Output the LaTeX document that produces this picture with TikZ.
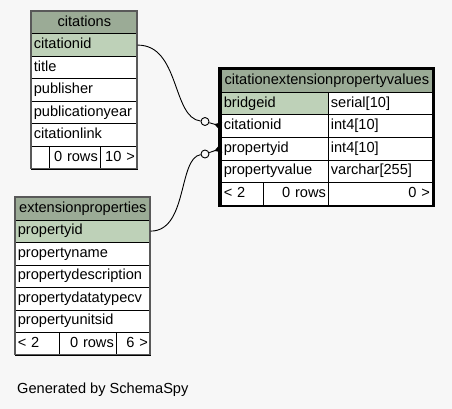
\documentclass[tikz,border=0pt]{standalone}
\usepackage{fontspec}
\setmainfont{Liberation Sans}
\usetikzlibrary{arrows.meta}
\definecolor{hdrgreen}{HTML}{9BAB96}
\definecolor{pkgreen}{HTML}{BED1B8}
\definecolor{canvas}{HTML}{F7F7F7}

\begin{document}
\begin{tikzpicture}[x=1pt, y=-1pt, font=\fontsize{14.6}{17}\selectfont,
		cell/.style={draw=black, line width=0.7pt, fill=white, anchor=north west,
			minimum height=22.5pt, inner xsep=2.5pt, inner ysep=0pt,
			text height=10.5pt, text depth=3pt, align=left},
		hdr/.style={cell, fill=hdrgreen, align=center},
		pk/.style={cell, fill=pkgreen},
		frame/.style={draw=black!65, line width=1.2pt},
		odot/.style={circle, draw=black, fill=canvas, line width=0.9pt, minimum size=8pt, inner sep=0pt},
		link/.style={draw=black, line width=0.9pt},
		crow/.style={-{Triangle[reversed, length=7pt, width=8pt]}}]
		\fill[canvas] (0,0) rectangle (452,409);
		\useasboundingbox (0,0) rectangle (452,409);
		% citations
		\node[hdr, text width=101pt] (cit) at (31,11) {citations};
		\node[pk, text width=101pt] (cit1) at (31,33.5) {citationid};
		\foreach \f [count=\i from 2] in {title,publisher,publicationyear,citationlink}{
			\node[cell, text width=101pt] (cit\i) at (31,{11+22.5*\i}) {\f};
		}
		\node[cell, text width=13pt] (citf1) at (31,146) {};
		\node[cell, text width=46pt, align=right] (citf2) at (49,146) {0 rows};
		\node[cell, text width=32pt, align=right] (citf3) at (100,146) {10 >};
		\draw[frame] (31,11) rectangle (137,168.5);
		% citationextensionpropertyvalues
		\node[hdr, text width=206pt] (cev) at (221,69.5) {citationextensionpropertyvalues};
		\node[pk, text width=102pt] (cev1) at (221,92) {bridgeid};
		\node[cell, text width=99pt] (cevt1) at (328,92) {serial[10]};
		\foreach \f/\t [count=\i from 2] in {citationid/int4[10],propertyid/int4[10],propertyvalue/varchar[255]}{
			\node[cell, text width=102pt] (cev\i) at (221,{69.5+22.5*\i}) {\f};
			\node[cell, text width=99pt] (cevt\i) at (328,{69.5+22.5*\i}) {\t};
		}
		\node[cell, text width=37pt] (cevf1) at (221,182) {< 2};
		\node[cell, text width=60pt, align=right] (cevf2) at (263,182) {0 rows};
		\node[cell, text width=99pt, align=right] (cevf3) at (328,182) {0 >};
		\draw[line width=2.6pt] (219.5,68) rectangle (433.5,206);
		% extensionproperties
		\node[hdr, text width=130pt] (ext) at (15,197) {extensionproperties};
		\node[pk, text width=130pt] (ext1) at (15,219.5) {propertyid};
		\foreach \f [count=\i from 2] in {propertyname,propertydescription,propertydatatypecv,propertyunitsid}{
			\node[cell, text width=130pt] (ext\i) at (15,{197+22.5*\i}) {\f};
		}
		\node[cell, text width=39pt] (extf1) at (15,332) {< 2};
		\node[cell, text width=52pt, align=right] (extf2) at (59,332) {0 rows};
		\node[cell, text width=29pt, align=right] (extf3) at (116,332) {6 >};
		\draw[frame] (15,197) rectangle (150,354.5);
		% relations
		\node[odot] (o1) at (205,121.5) {};
		\node[odot] (o2) at (205,154) {};
		\draw[link] (cit1.east) .. controls (180,45) and (172,118) .. (o1);
		\draw[link, crow] (o1) -- (cev2.west);
		\draw[link] (ext1.east) .. controls (188,231) and (178,158) .. (o2);
		\draw[link, crow] (o2) -- (cev3.west);
		\node[anchor=west, inner sep=0pt] (gen) at (17,390) {Generated by SchemaSpy};
	\end{tikzpicture}
\end{document}
